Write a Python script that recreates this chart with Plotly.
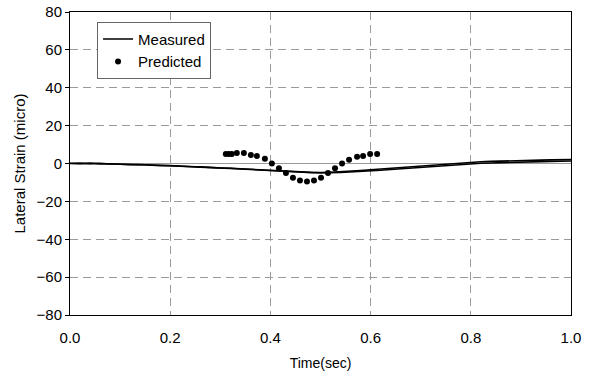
import plotly.graph_objects as go

time_measured = [round(i * 0.02, 2) for i in range(51)]
measured_a = [0.0, 0.2, -0.1, 0.1, -0.3, -0.4, -0.3, -0.6, -0.8, -0.9,
              -1.2, -1.3, -1.6, -1.9, -2.0, -2.3, -2.6, -2.9, -3.1, -3.3,
              -3.6, -4.0, -4.3, -4.5, -4.8, -5.0, -4.9, -4.7, -4.5, -4.2,
              -3.9, -3.6, -3.2, -2.8, -2.4, -2.0, -1.6, -1.3, -0.9, -0.5,
              -0.2, 0.1, 0.3, 0.5, 0.6, 0.8, 0.9, 1.0, 1.1, 1.2, 1.3]
measured_b = [0.1, -0.1, 0.2, -0.2, -0.1, -0.5, -0.6, -0.5, -0.9, -1.1,
              -1.1, -1.5, -1.7, -1.8, -2.2, -2.4, -2.5, -2.8, -3.2, -3.4,
              -3.5, -3.8, -4.1, -4.4, -4.6, -4.8, -4.6, -4.4, -4.1, -3.7,
              -3.3, -2.9, -2.5, -2.0, -1.6, -1.2, -0.8, -0.4, -0.1, 0.3,
              0.6, 0.9, 1.1, 1.3, 1.5, 1.6, 1.7, 1.8, 1.9, 2.0, 2.1]

# Predicted points
time_predicted = [0.311, 0.317, 0.323, 0.333, 0.347, 0.361, 0.373, 0.389,
                  0.403, 0.417, 0.431, 0.445, 0.459, 0.473, 0.487, 0.501,
                  0.515, 0.529, 0.543, 0.557, 0.573, 0.585, 0.599, 0.613]
strain_predicted = [5.0, 5.0, 5.0, 5.5, 5.5, 4.5, 4.0, 2.5,
                    0.0, -2.5, -5.0, -7.5, -9.0, -9.5, -9.0, -7.5,
                    -5.0, -2.5, 0.0, 2.0, 3.5, 4.0, 5.0, 5.0]

x_ticks = [0.0, 0.2, 0.4, 0.6, 0.8, 1.0]
x_tick_labels = ["0.0", "0.2", "0.4", "0.6", "0.8", "1.0"]
y_ticks = [-80, -60, -40, -20, 0, 20, 40, 60, 80]

fig = go.Figure()
fig.add_trace(go.Scatter(x=time_measured, y=measured_a, mode="lines",
                         line=dict(color="black", width=1.6), name="Measured"))
fig.add_trace(go.Scatter(x=time_measured, y=measured_b, mode="lines",
                         line=dict(color="black", width=1.6), name="Measured",
                         showlegend=False))
fig.add_trace(go.Scatter(x=time_predicted, y=strain_predicted, mode="markers",
                         marker=dict(color="black", size=6), name="Predicted"))

font = "Liberation Sans, Arial, sans-serif"
fig.update_layout(
    width=595, height=380,
    margin=dict(l=70, r=24, t=12, b=65),
    paper_bgcolor="white", plot_bgcolor="white",
    font=dict(family=font, color="black", size=15),
    legend=dict(x=0.054, y=0.968, xanchor="left", yanchor="top",
                bordercolor="#666666", borderwidth=1, bgcolor="white",
                font=dict(size=15), tracegroupgap=0),
    xaxis=dict(range=[0, 1.0], tickvals=x_ticks, ticktext=x_tick_labels,
               automargin=False,
               showgrid=True, gridcolor="#9a9a9a", griddash="8px,5px", gridwidth=1,
               zeroline=False, showline=True, linecolor="black", mirror=True,
               ticks="", ticklabelstandoff=9,
               title=dict(text="Time(sec)", font=dict(size=14), standoff=13),
               tickfont=dict(size=15)),
    yaxis=dict(range=[-80, 80], tickvals=y_ticks, automargin=False,
               showgrid=True, gridcolor="#9a9a9a", griddash="8px,5px", gridwidth=1,
               zeroline=True, zerolinecolor="#9a9a9a", zerolinewidth=1,
               showline=True, linecolor="black", mirror=True,
               ticks="outside", ticklen=4, tickcolor="black",
               title=dict(text="Lateral Strain (micro)", font=dict(size=15), standoff=7),
               tickfont=dict(size=15)),
)

fig.write_html("out.html", config={"displayModeBar": False},
               post_script="document.body.style.margin='0';document.body.style.padding='0';")
